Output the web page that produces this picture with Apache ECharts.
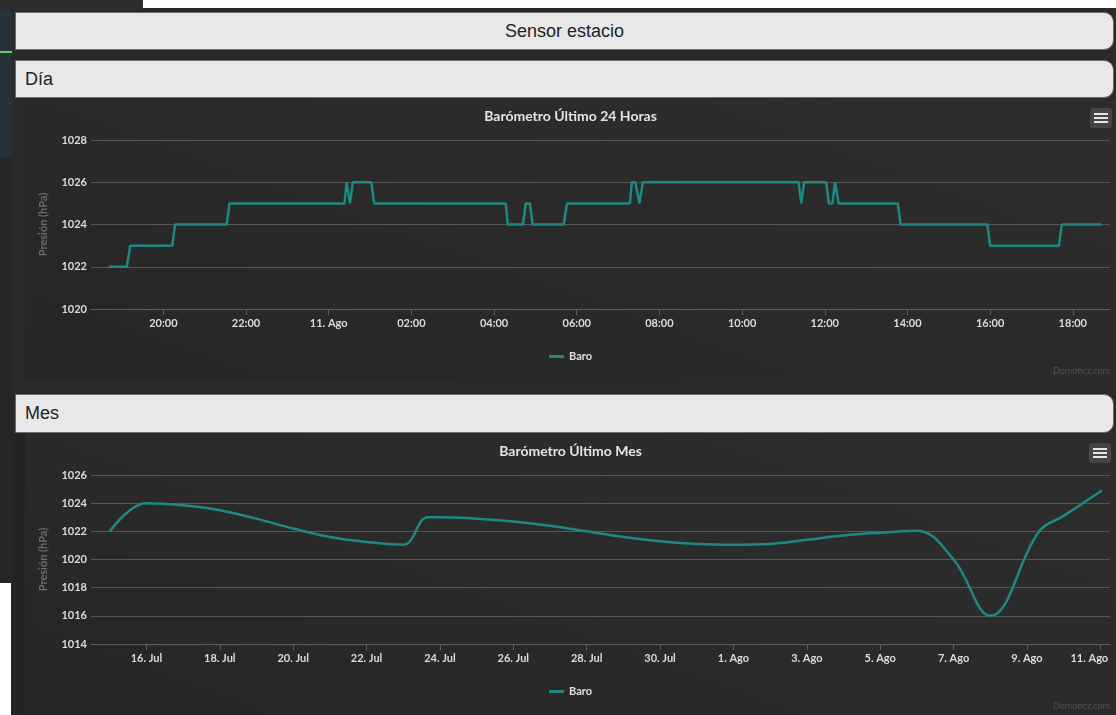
<!DOCTYPE html>
<html>
<head>
<meta charset="utf-8">
<title>Sensor estacio</title>
<script src="https://cdn.jsdelivr.net/npm/echarts@6/dist/echarts.min.js"></script>
<style>
  html, body { margin: 0; padding: 0; }
  body { width: 1116px; height: 715px; position: relative; overflow: hidden; background: #2a2a2a; font-family: "Liberation Sans", Arial, sans-serif; }
  .blk { position: absolute; }
  .bar { position: absolute; left: 15px; width: 1099px; background: #e8e8e8; border: 1px solid #6d6d6d; border-radius: 0 10px 10px 0; color: #222; font-size: 18px; box-sizing: border-box; }
  .chart { position: absolute; left: 25px; width: 1091px; background: linear-gradient(20deg, #262626 0%, #2b2b2b 60%, #2d2d2d 100%); }
  .menu { position: absolute; width: 22px; height: 20px; background: #454545; border-radius: 3px; }
  .menu i { position: absolute; left: 4px; width: 14px; height: 2px; background: #e6e6e6; }
</style>
</head>
<body>
<!-- background pieces of the page behind -->
<div class="blk" style="left:143px;top:0;width:973px;height:8px;background:#fff"></div>
<div class="blk" style="left:0;top:0;width:143px;height:10px;background:#2c2c2c"></div>
<div class="blk" style="left:0;top:10px;width:12px;height:148px;background:#25323a"></div>
<div class="blk" style="left:0;top:51px;width:12px;height:2px;background:#5fcf5f"></div>
<div class="blk" style="left:0;top:158px;width:12px;height:425px;background:#262626"></div>
<div class="blk" style="left:0;top:583px;width:11px;height:132px;background:#fff"></div>
<div class="blk" style="left:11px;top:433px;width:14px;height:282px;background:#242424"></div>

<div class="bar" style="top:12px;height:38px;line-height:36px;text-align:center;">Sensor estacio</div>
<div class="bar" style="top:60px;height:38px;line-height:36px;padding-left:9px;">Día</div>
<div class="chart" id="dayChart" style="top:98px;height:282px;"></div>
<div class="bar" style="top:394px;height:39px;line-height:37px;padding-left:9px;">Mes</div>
<div class="chart" id="monthChart" style="top:433px;height:282px;"></div>

<div class="menu" style="left:1090px;top:108px;"><i style="top:5px"></i><i style="top:9px"></i><i style="top:13px"></i></div>
<div class="menu" style="left:1089px;top:443px;"><i style="top:5px"></i><i style="top:9px"></i><i style="top:13px"></i></div>

<script>
// ---- data ----
const dayTimes = [
  '2015-08-10 18:41', '2015-08-10 19:07', '2015-08-10 19:12', '2015-08-10 20:13', '2015-08-10 20:17',
  '2015-08-10 21:32', '2015-08-10 21:36', '2015-08-11 00:23', '2015-08-11 00:26', '2015-08-11 00:31',
  '2015-08-11 00:35', '2015-08-11 01:02', '2015-08-11 01:06', '2015-08-11 04:17', '2015-08-11 04:20',
  '2015-08-11 04:42', '2015-08-11 04:46', '2015-08-11 04:52', '2015-08-11 04:56', '2015-08-11 05:41',
  '2015-08-11 05:46', '2015-08-11 07:17', '2015-08-11 07:20', '2015-08-11 07:25', '2015-08-11 07:31',
  '2015-08-11 07:36', '2015-08-11 11:22', '2015-08-11 11:26', '2015-08-11 11:30', '2015-08-11 12:02',
  '2015-08-11 12:06', '2015-08-11 12:11', '2015-08-11 12:15', '2015-08-11 12:20', '2015-08-11 13:46',
  '2015-08-11 13:50', '2015-08-11 15:56', '2015-08-11 16:00', '2015-08-11 17:40', '2015-08-11 17:44',
  '2015-08-11 18:41'
];
const dayPressure = [
  1022, 1022, 1023, 1023, 1024,
  1024, 1025, 1025, 1026, 1025,
  1026, 1026, 1025, 1025, 1024,
  1024, 1025, 1025, 1024, 1024,
  1025, 1025, 1026, 1026, 1025,
  1026, 1026, 1025, 1026, 1026,
  1025, 1025, 1026, 1025, 1025,
  1024, 1024, 1023, 1023, 1024,
  1024
];
const dayTickTimes = [
  '2015-08-10 20:00', '2015-08-10 22:00', '2015-08-11 00:00', '2015-08-11 02:00', '2015-08-11 04:00',
  '2015-08-11 06:00', '2015-08-11 08:00', '2015-08-11 10:00', '2015-08-11 12:00', '2015-08-11 14:00',
  '2015-08-11 16:00', '2015-08-11 18:00'
];
const dayTickLabels = ['20:00', '22:00', '11. Ago', '02:00', '04:00', '06:00', '08:00', '10:00', '12:00', '14:00', '16:00', '18:00'];

const monthDates = [
  '2015-07-15', '2015-07-16', '2015-07-17', '2015-07-18', '2015-07-19', '2015-07-20', '2015-07-21',
  '2015-07-22', '2015-07-23', '2015-07-23 16:00', '2015-07-24', '2015-07-25', '2015-07-26', '2015-07-27',
  '2015-07-28', '2015-07-29', '2015-07-30', '2015-07-31', '2015-08-01', '2015-08-02', '2015-08-03',
  '2015-08-04', '2015-08-05', '2015-08-06', '2015-08-07', '2015-08-08', '2015-08-09 08:00', '2015-08-10',
  '2015-08-11 01:00'
];
const monthPressure = [
  1022, 1024, 1023.85, 1023.5, 1022.9, 1022.2, 1021.6,
  1021.25, 1021.05, 1023, 1023, 1022.9, 1022.7, 1022.4,
  1022, 1021.6, 1021.3, 1021.1, 1021.05, 1021.1, 1021.4,
  1021.7, 1021.9, 1022.05, 1020, 1016, 1022, 1023.1,
  1024.9
];
const monthTickDates = [
  '2015-07-16', '2015-07-18', '2015-07-20', '2015-07-22', '2015-07-24', '2015-07-26', '2015-07-28',
  '2015-07-30', '2015-08-01', '2015-08-03', '2015-08-05', '2015-08-07', '2015-08-09', '2015-08-11'
];
const monthTickLabels = ['16. Jul', '18. Jul', '20. Jul', '22. Jul', '24. Jul', '26. Jul', '28. Jul',
  '30. Jul', '1. Ago', '3. Ago', '5. Ago', '7. Ago', '9. Ago', '11. Ago'];

const lineColor = '#1e8984';
const font = 'Lato, "DejaVu Sans", sans-serif';

function ms(t) {
  return +echarts.time.parse(t);
}

function buildOption(title, times, values, tickTimes, tickLabels, xMin, xMax, yMin, yMax, smooth, lastShift) {
  const tickNums = tickTimes.map(ms);
  return {
    animation: false,
    backgroundColor: 'transparent',
    title: {
      text: title, left: 'center', top: 6,
      textStyle: { color: '#e4e4e4', fontSize: 14, fontWeight: 'bold', fontFamily: font }
    },
    legend: {
      data: ['Baro'], left: 'center', top: 248,
      icon: 'rect', itemWidth: 15, itemHeight: 3, itemGap: 4,
      textStyle: { color: '#e0e0e0', fontSize: 11, fontWeight: 'bold', fontFamily: font }
    },
    graphic: [{
      type: 'text', right: 6, bottom: 4,
      style: { text: 'Domoticz.com', fill: '#505050', font: '9px ' + font }
    }],
    grid: { left: 66, right: 6, top: 42, bottom: 71, outerBoundsMode: 'none' },
    xAxis: {
      type: 'value', min: ms(xMin), max: ms(xMax),
      axisLine: { lineStyle: { color: '#5e5e5e' } },
      axisTick: { length: 6, customValues: tickNums, lineStyle: { color: '#5e5e5e' } },
      splitLine: { show: false },
      axisLabel: {
        customValues: tickNums, margin: 9, hideOverlap: false,
        color: '#dcdcdc', fontSize: 11, fontWeight: 'bold', fontFamily: font,
        rich: {
          edge: { color: '#dcdcdc', fontSize: 11, fontWeight: 'bold', fontFamily: font, padding: [0, lastShift, 0, 0] }
        },
        formatter: function (v) {
          const i = tickNums.indexOf(+v);
          if (i < 0) return '';
          return (i === tickNums.length - 1 && lastShift) ? '{edge|' + tickLabels[i] + '}' : tickLabels[i];
        }
      }
    },
    yAxis: {
      type: 'value', min: yMin, max: yMax, interval: 2,
      name: 'Presión (hPa)', nameLocation: 'middle', nameGap: 42,
      nameTextStyle: { color: '#6e6e6e', fontSize: 11, fontWeight: 'bold', fontFamily: font },
      axisLine: { show: false }, axisTick: { show: false },
      splitLine: { lineStyle: { color: '#575757', width: 1 } },
      axisLabel: {
        margin: 4, color: '#dcdcdc', fontSize: 11, fontWeight: 'bold', fontFamily: font,
        formatter: function (v) { return String(v); }
      }
    },
    series: [{
      name: 'Baro', type: 'line', smooth: smooth, showSymbol: false,
      color: lineColor,
      lineStyle: { color: lineColor, width: 2.5 },
      data: times.map((t, i) => [ms(t), values[i]])
    }]
  };
}

const dayChart = echarts.init(document.getElementById('dayChart'));
dayChart.setOption(buildOption('Barómetro Último 24 Horas', dayTimes, dayPressure, dayTickTimes, dayTickLabels,
  '2015-08-10 18:15', '2015-08-11 18:54', 1020, 1028, false, 0));

const monthChart = echarts.init(document.getElementById('monthChart'));
monthChart.setOption(buildOption('Barómetro Último Mes', monthDates, monthPressure, monthTickDates, monthTickLabels,
  '2015-07-14 11:45', '2015-08-11 06:20', 1014, 1026, 0.4, 22));
</script>
</body>
</html>
